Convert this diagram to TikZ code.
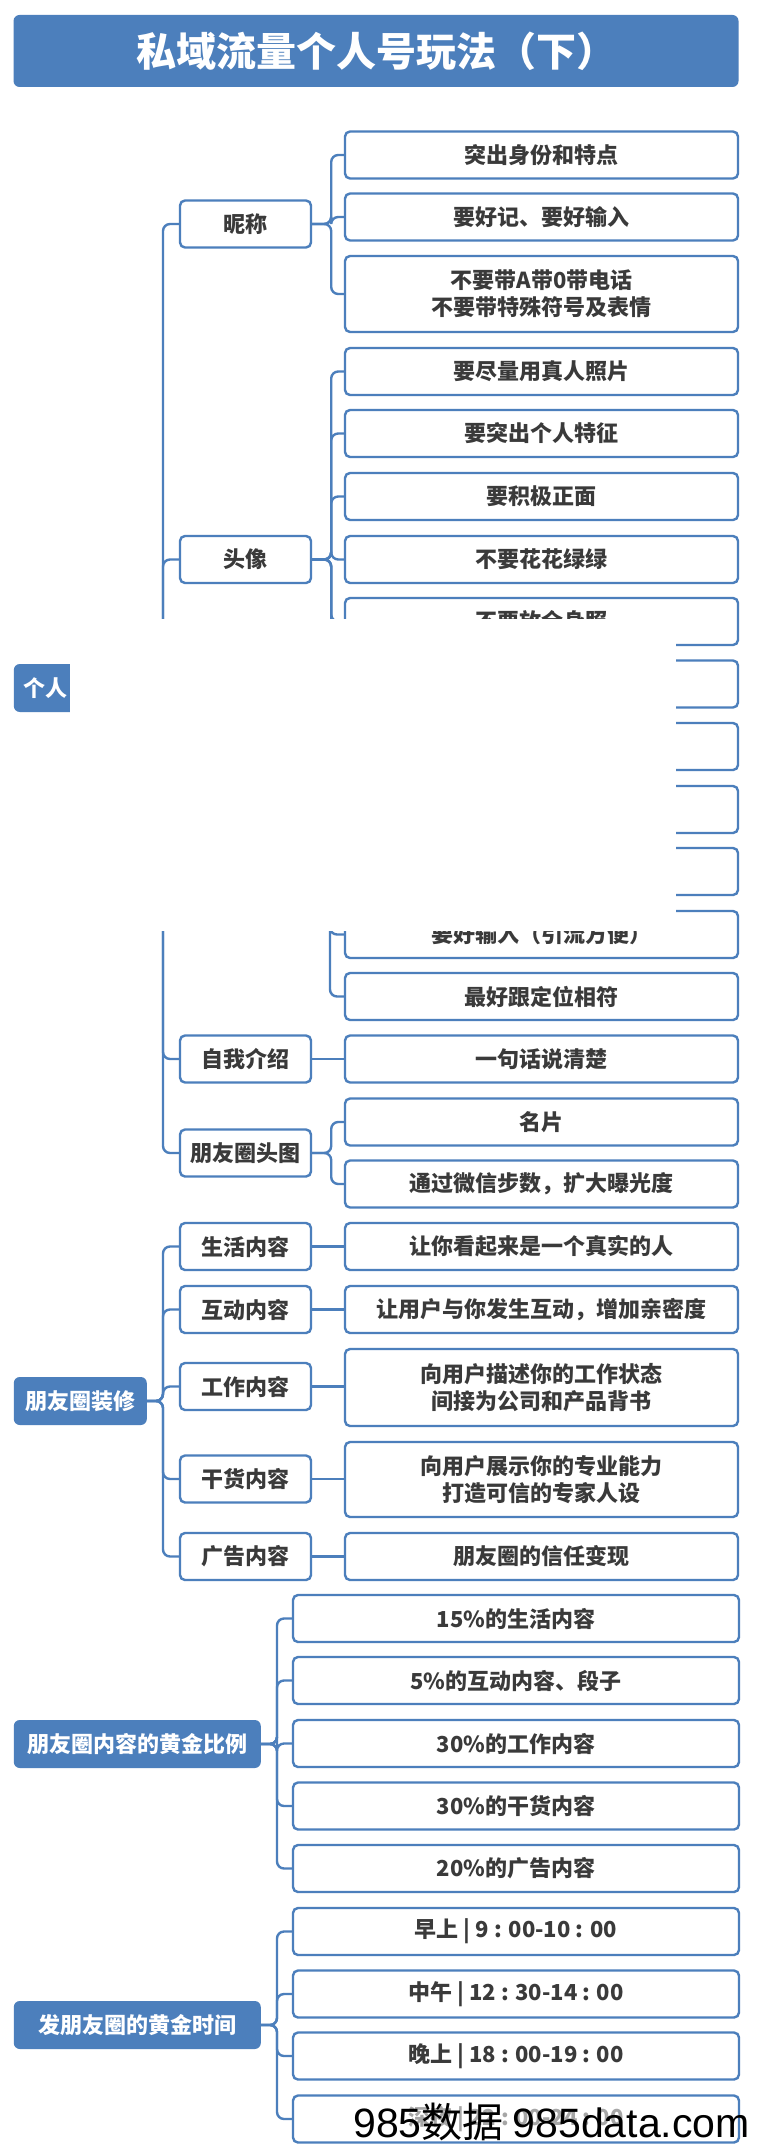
\documentclass[tikz,border=0pt]{standalone}
\usepackage{fontspec}
\setmainfont{Noto Sans CJK SC}
\newfontfamily\wmfont{Liberation Sans}

\definecolor{mapblue}{HTML}{4C7FBC}
\definecolor{maptext}{HTML}{3A3A3A}

\begin{document}
\begin{tikzpicture}[x=1pt,y=-1pt,
	box/.style={draw=mapblue, line width=2.4pt, rounded corners=5pt, fill=white, text=maptext,
		font=\fontsize{22}{27}\selectfont\bfseries, align=center, inner sep=0pt, minimum height=47pt},
	leaf/.style={box, minimum width=393pt},
	wide/.style={box, minimum width=446pt},
	sub/.style={box, minimum width=131pt},
	root/.style={fill=mapblue, rounded corners=6pt, text=white, align=center,
		font=\fontsize{22}{27}\selectfont\bfseries, inner sep=0pt, minimum height=48pt},
	link/.style={draw=mapblue, line width=2.4pt, rounded corners=7pt}]

	\useasboundingbox[fill=white] (0,0) rectangle (762,2151);

	% title
	\node[root, minimum width=725pt, minimum height=72pt, font=\fontsize{40}{40}\selectfont\bfseries] (ttl) at (376,51) {私域流量个人号玩法（下）};

	% group 1
	\node[root, minimum width=133pt, text width=114pt, align=left] (r1) at (80.3,688) {个人};

	\node[sub] (nc) at (245.5,224) {昵称};
	\node[sub] (tx) at (245.5,559.5) {头像};
	\coordinate (hin) at (180,903);
	\coordinate (hout) at (311,903);
	\node[sub] (zw) at (245.5,1059) {自我介绍};
	\node[sub] (pt) at (245.5,1153) {朋友圈头图};

	\node[leaf] (n1) at (541.5,155) {突出身份和特点};
	\node[leaf] (n2) at (541.5,217) {要好记、要好输入};
	\node[leaf, minimum height=76pt] (n3) at (541.5,294) {不要带A带0带电话\\不要带特殊符号及表情};

	\node[leaf] (t1) at (541.5,371.5) {要尽量用真人照片};
	\node[leaf] (t2) at (541.5,433.5) {要突出个人特征};
	\node[leaf] (t3) at (541.5,496.5) {要积极正面};
	\node[leaf] (t4) at (541.5,559.5) {不要花花绿绿};
	\node[leaf] (t5) at (541.5,621.5) {不要放全身照};
	\node[leaf] (t6) at (541.5,684) {};
	\node[leaf] (t7) at (541.5,746.5) {};

	\node[leaf] (h1) at (541.5,809.5) {};
	\node[leaf] (h2) at (541.5,871.5) {};
	\node[leaf] (h3) at (541.5,934.5) {要好输入（引流方便）};
	\node[leaf] (h4) at (541.5,996.5) {最好跟定位相符};

	\node[leaf] (z1) at (541.5,1059) {一句话说清楚};
	\node[leaf] (p1) at (541.5,1122) {名片};
	\node[leaf] (p2) at (541.5,1184) {通过微信步数，扩大曝光度};

	\foreach \c in {nc,tx,hin,zw,pt}
		\draw[link] (r1.east) -- (163,688) |- (\c);
	\foreach \c in {n1,n2,n3}
		\draw[link] (nc.east) -- ++(19,0) |- (\c.west);
	\foreach \c in {t1,t2,t3,t4,t5,t6,t7}
		\draw[link] (tx.east) -- ++(19,0) |- (\c.west);
	\foreach \c in {h1,h2,h3,h4}
		\draw[link] (hout) -- ++(19,0) |- (\c.west);
	\draw[link] (zw.east) -- (z1.west);
	\foreach \c in {p1,p2}
		\draw[link] (pt.east) -- ++(19,0) |- (\c.west);

	% group 2
	\node[root, minimum width=133pt] (r2) at (80.3,1401) {朋友圈装修};

	\node[sub] (s1) at (245.5,1246.5) {生活内容};
	\node[sub] (s2) at (245.5,1309.5) {互动内容};
	\node[sub] (s3) at (245.5,1386.5) {工作内容};
	\node[sub] (s4) at (245.5,1479) {干货内容};
	\node[sub] (s5) at (245.5,1556.5) {广告内容};

	\node[leaf] (d1) at (541.5,1246.5) {让你看起来是一个真实的人};
	\node[leaf] (d2) at (541.5,1309.5) {让用户与你发生互动，增加亲密度};
	\node[leaf, minimum height=77pt] (d3) at (541.5,1387.5) {向用户描述你的工作状态\\间接为公司和产品背书};
	\node[leaf, minimum height=75pt] (d4) at (541.5,1479.5) {向用户展示你的专业能力\\打造可信的专家人设};
	\node[leaf] (d5) at (541.5,1556.5) {朋友圈的信任变现};

	\foreach \i in {1,...,5} {
		\draw[link] (r2.east) -- ++(16,0) |- (s\i.west);
		\draw[link] (s\i.east) -- (s\i.east -| d\i.west);
	}

	% group 3
	\node[root, minimum width=247pt] (r3) at (137.3,1744) {朋友圈内容的黄金比例};

	\node[wide] (b1) at (516,1618.5) {15\%的生活内容};
	\node[wide] (b2) at (516,1680.5) {5\%的互动内容、段子};
	\node[wide] (b3) at (516,1743.5) {30\%的工作内容};
	\node[wide] (b4) at (516,1806) {30\%的干货内容};
	\node[wide] (b5) at (516,1868.5) {20\%的广告内容};

	\foreach \i in {1,...,5}
		\draw[link] (r3.east) -- ++(16,0) |- (b\i.west);

	% group 4
	\node[root, minimum width=247pt] (r4) at (137.3,2025) {发朋友圈的黄金时间};

	\node[wide] (m1) at (516,1931.5) {早上 | 9 : 00-10 : 00};
	\node[wide] (m2) at (516,1994) {中午 | 12 : 30-14 : 00};
	\node[wide] (m3) at (516,2056) {晚上 | 18 : 00-19 : 00};
	\node[wide, text=maptext!45] (m4) at (516,2119) {深夜 | 22 : 00-24 : 00};

	\foreach \i in {1,...,4}
		\draw[link] (r4.east) -- ++(16,0) |- (m\i.west);

	% blank patch over the middle
	\fill[white] (70,619) rectangle (676,931);

	\node[anchor=base west, inner sep=0pt, text=black, font=\fontsize{41}{41}\selectfont] (wm) at (353,2137) {{\wmfont 985}数据 {\wmfont 985data.com}};

\end{tikzpicture}
\end{document}
